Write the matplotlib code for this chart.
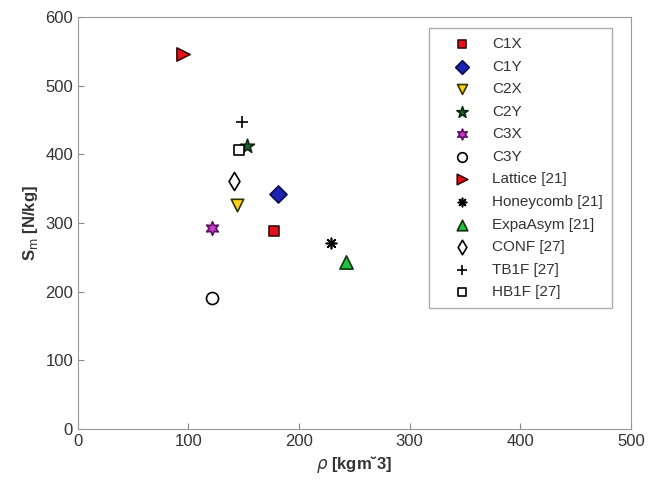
import matplotlib.pyplot as plt

plt.rcParams['font.family'] = ['Liberation Sans', 'DejaVu Sans']

# data
labels = ['C1X', 'C1Y', 'C2X', 'C2Y', 'C3X', 'C3Y', 'Lattice [21]', 'Honeycomb [21]',
          'ExpaAsym [21]', 'CONF [27]', 'TB1F [27]', 'HB1F [27]']
rho = [177, 181, 144, 153, 121, 121, 95, 229, 242, 141, 148, 146]
sm = [288, 343, 326, 413, 293, 191, 546, 271, 243, 362, 448, 406]

markers = ['s', 'D', 'v', '*', (6, 1, 0), 'o', '>', (8, 2, 0), '^', 'd', '+', 's']
faces = ['#e3101c', '#1d22b0', '#ffd21a', '#1f5f2a', '#c83cc8', 'white', '#e3101c', 'black',
         '#22c040', 'white', 'black', 'white']
edges = ['#3a0a0a', '#0a0a50', '#333300', '#0d2a12', '#5a1060', 'black', '#3a0a0a', 'black',
         '#103010', 'black', 'black', 'black']
sizes = [55, 75, 80, 110, 95, 75, 90, 55, 90, 85, 75, 55]

fig = plt.figure(figsize=(6.49, 4.92), dpi=100)
ax = fig.add_axes([0.120, 0.128, 0.852, 0.837])

for i in range(len(labels)):
    ax.scatter(rho[i], sm[i], marker=markers[i], s=sizes[i], c=faces[i],
               edgecolors=edges[i], linewidths=1.2, label=labels[i], zorder=3)

ax.set_xlim(0, 500)
ax.set_ylim(0, 600)
ax.set_xticks(range(0, 501, 100))
ax.set_yticks(range(0, 601, 100))
ax.tick_params(direction='in', length=4, color='#888888', labelsize=12, labelcolor='#333333')
for s in ax.spines.values():
    s.set_color('#999999')

ax.set_xlabel(r'$\rho$ [kgm˘3]', fontsize=12, fontweight='bold', color='#333333')
ax.set_ylabel(r'S$_{\rm m}$ [N/kg]', fontsize=12, fontweight='bold', color='#333333')

leg = ax.legend(loc='upper right', bbox_to_anchor=(0.966, 0.974), borderaxespad=0,
                fontsize=11, frameon=True, fancybox=False, edgecolor='#999999',
                labelspacing=0.56, handlelength=3.1, handletextpad=0.42, borderpad=0.6,
                scatterpoints=1, markerscale=0.8)
for t in leg.get_texts():
    t.set_color('#333333')

fig.savefig('out.png', dpi=100)
